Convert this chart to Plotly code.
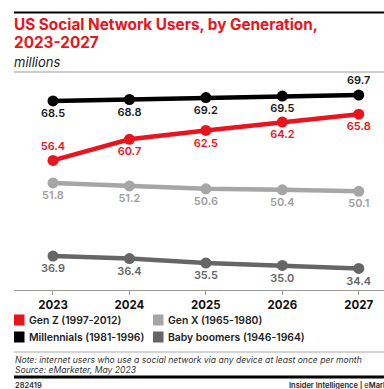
import plotly.graph_objects as go

years = [2023, 2024, 2025, 2026, 2027]
gen_z = [56.4, 60.7, 62.5, 64.2, 65.8]
millennials = [68.5, 68.8, 69.2, 69.5, 69.7]
gen_x = [51.8, 51.2, 50.6, 50.4, 50.1]
boomers = [36.9, 36.4, 35.5, 35.0, 34.4]

names = ["Gen Z (1997-2012)", "Millennials (1981-1996)", "Gen X (1965-1980)", "Baby boomers (1946-1964)"]
colors = ["#e8141e", "#000000", "#a6a6a6", "#666666"]
label_colors = ["#e8141e", "#1a1a1a", "#a0a0a0", "#666666"]

W, H = 384, 389
FONT = "Inter"

def px(x):
    return x / W

def py(y):
    return 1 - y / H

series = [gen_z, millennials, gen_x, boomers]
positions = [
    ["top center", "bottom center", "bottom center", "bottom center", "bottom center"],
    ["bottom center", "bottom center", "bottom center", "bottom center", "top center"],
    ["bottom center"] * 5,
    ["bottom center"] * 5,
]

fig = go.Figure()
for vals, name, col, lcol, pos in zip(series, names, colors, label_colors, positions):
    fig.add_trace(go.Scatter(
        x=years, y=vals, name=name, mode="lines+markers+text",
        line=dict(color=col, width=4.5),
        marker=dict(color=col, size=11),
        text=[f"{v:.1f}" for v in vals],
        textposition=pos,
        textfont=dict(family=FONT, size=11, color=lcol, weight=600),
        showlegend=False, cliponaxis=False,
    ))

shapes = []
annotations = []

def note(text, x, y, size, color="#222", weight=None, anchor="left", italic=False):
    t = f"<i>{text}</i>" if italic else text
    f = dict(family=FONT, size=size, color=color)
    if weight:
        f["weight"] = weight
    annotations.append(dict(text=t, xref="paper", yref="paper", x=px(x), y=py(y), xanchor=anchor,
                            yanchor="middle", showarrow=False, font=f))

# top rule
shapes.append(dict(type="line", xref="paper", yref="paper", x0=px(14), x1=1, y0=py(12.5), y1=py(12.5),
                   line=dict(color="#000", width=2)))
note("US Social Network Users, by Generation,", 12, 25, 15.3, "#e8141e", 700)
note("2023-2027", 12, 43, 15.3, "#e8141e", 700)
note("millions", 12, 62, 13, "#222", italic=True)
shapes.append(dict(type="line", xref="paper", yref="paper", x0=px(14), x1=1, y0=py(72), y1=py(72),
                   line=dict(color="#999", width=1)))

# legend
leg = [(0, 14, 320), (2, 153, 320), (1, 14, 337), (3, 153, 337)]
for idx, lx, ly in leg:
    shapes.append(dict(type="rect", xref="paper", yref="paper", x0=px(lx), x1=px(lx + 10.5),
                       y0=py(ly - 5.5), y1=py(ly + 5.5), fillcolor=colors[idx], line=dict(width=0)))
    note(names[idx], lx + 12.5, ly, 10.4, "#222", 600)

shapes.append(dict(type="line", xref="paper", yref="paper", x0=px(14), x1=1, y0=py(352), y1=py(352),
                   line=dict(color="#aaa", width=1)))
note("Note: internet users who use a social network via any device at least once per month", 13, 360, 8.6, "#333", italic=True)
note("Source: eMarketer, May 2023", 13, 369.5, 8.6, "#333", italic=True)
shapes.append(dict(type="line", xref="paper", yref="paper", x0=px(14), x1=1, y0=py(377), y1=py(377),
                   line=dict(color="#000", width=3)))
note("282419", 13, 385.5, 7.5, "#333", 600)
note("Insider Intelligence | <span style='color:#e8141e'>e</span>Marketer", 287, 385.5, 7.5, "#222", 600)

fig.update_layout(
    width=W, height=H, margin=dict(l=0, r=0, t=0, b=0),
    paper_bgcolor="white", plot_bgcolor="white",
    shapes=shapes, annotations=annotations,
    xaxis=dict(domain=[px(14), 1], range=[2022.49, 2027.33], tickmode="array", tickvals=years,
               ticktext=[str(y) for y in years], showgrid=False, zeroline=False,
               showline=True, linecolor="#999", linewidth=1, ticks="outside", ticklen=4, tickcolor="#999",
               tickfont=dict(family=FONT, size=11.5, color="#111", weight=700)),
    yaxis=dict(domain=[py(290), py(72)], range=[30, 74.4], visible=False),
)

fig.write_html("out.html")
